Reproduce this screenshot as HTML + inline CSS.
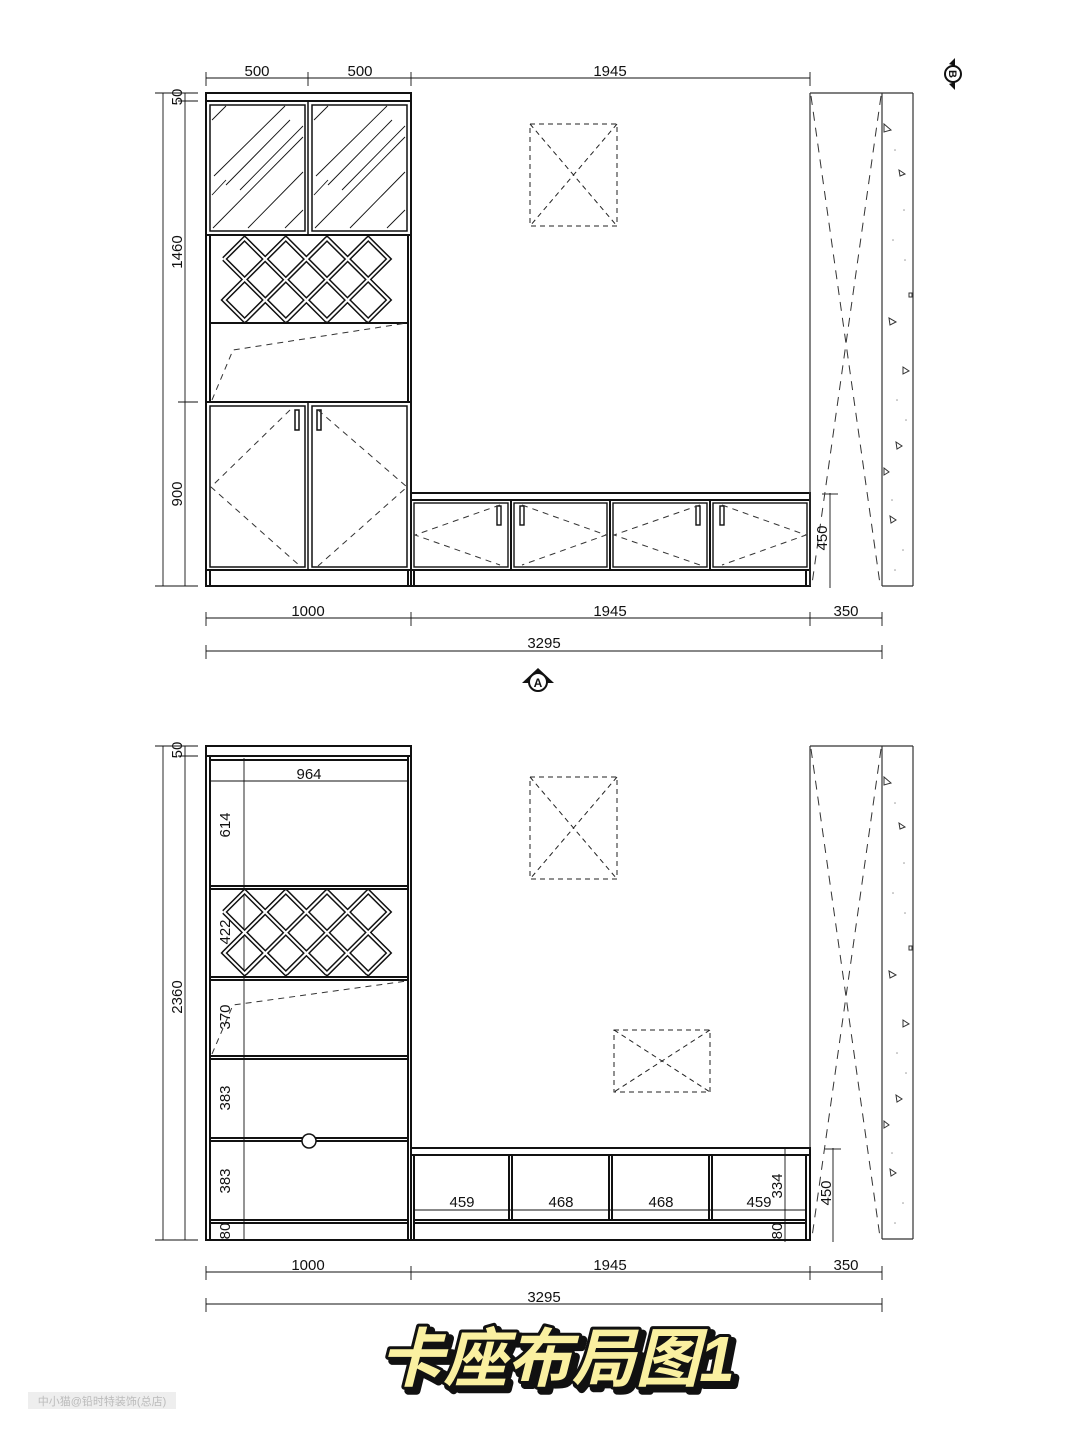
<!DOCTYPE html>
<html><head><meta charset="utf-8"><style>
html,body{margin:0;padding:0;background:#fff}
svg{display:block}
text{font-family:"Liberation Sans","Noto Sans CJK SC",sans-serif;fill:#111}
</style></head><body>
<svg width="1080" height="1439" viewBox="0 0 1080 1439" xmlns="http://www.w3.org/2000/svg">
<defs>
<g id="rackpath">
  <!-- lattice lines: slope -1 and +1 -->
  <polyline points="224,0 244.6,-20.5 265.2,0 285.8,-20.5 306.4,0 327,-20.5 347.6,0 368.2,-20.5 388.8,0 368.2,20.5 388.8,41 368.2,61.5 347.6,41 327,61.5 306.4,41 285.8,61.5 265.2,41 244.6,61.5 224,41 244.6,20.5 224,0"/>
  <line x1="244.6" y1="-20.5" x2="326.6" y2="61.5"/>
  <line x1="285.8" y1="-20.5" x2="367.8" y2="61.5"/>
  <line x1="327" y1="-20.5" x2="388.8" y2="41"/>
  <line x1="244.6" y1="20.5" x2="285.8" y2="61.5"/>
  <line x1="368.2" y1="-20.5" x2="286.2" y2="61.5"/>
  <line x1="327" y1="-20.5" x2="245" y2="61.5"/>
  <line x1="285.8" y1="-20.5" x2="224" y2="41"/>
  <line x1="368.2" y1="20.5" x2="327" y2="61.5"/>
</g>
<g id="rack">
  <use href="#rackpath" fill="none" stroke="#111" stroke-width="5" stroke-linejoin="miter"/>
  <use href="#rackpath" fill="none" stroke="#fff" stroke-width="2"/>
</g>
<g id="wall">
  <line x1="810" y1="93" x2="913" y2="93" stroke="#333" stroke-width="1.2"/>
  <line x1="810" y1="93" x2="810" y2="586" stroke="#333" stroke-width="1.2"/>
  <line x1="882" y1="93" x2="882" y2="586" stroke="#333" stroke-width="1.2"/>
  <line x1="913" y1="93" x2="913" y2="586" stroke="#333" stroke-width="1.2"/>
  <line x1="882" y1="586" x2="913" y2="586" stroke="#333" stroke-width="1.2"/>
  <g stroke="#333" stroke-width="1" stroke-dasharray="9,7" fill="none">
    <line x1="811" y1="96" x2="880" y2="584"/>
    <line x1="881" y1="96" x2="812" y2="584"/>
  </g>
  <g fill="none" stroke="#333" stroke-width="1">
    <polygon points="884,124 884,132 891,130"/>
    <polygon points="899,170 900,176 905,174"/>
    <polygon points="889,318 890,325 896,322"/>
    <polygon points="903,367 903,374 909,371"/>
    <polygon points="896,442 897,449 902,446"/>
    <polygon points="884,468 884,475 889,472"/>
    <polygon points="890,516 891,523 896,520"/>
    <rect x="909" y="293" width="3" height="4"/>
  </g>
  <g fill="#999">
    <circle cx="895" cy="150" r=".8"/><circle cx="904" cy="210" r=".8"/><circle cx="893" cy="240" r=".8"/>
    <circle cx="905" cy="260" r=".8"/><circle cx="897" cy="400" r=".8"/><circle cx="906" cy="420" r=".8"/>
    <circle cx="892" cy="500" r=".8"/><circle cx="903" cy="550" r=".8"/><circle cx="895" cy="570" r=".8"/>
  </g>
</g>
<g id="light1" fill="none" stroke="#222" stroke-width="1" stroke-dasharray="5,4">
  <rect x="530" y="124" width="87" height="102"/>
  <line x1="530" y1="124" x2="617" y2="226"/>
  <line x1="617" y1="124" x2="530" y2="226"/>
</g>
</defs>

<!-- ================= TOP DRAWING ================= -->
<g stroke="#111" fill="none">
  <g stroke-width="0.9">
    <line x1="206" y1="78" x2="810" y2="78"/>
    <line x1="206" y1="72" x2="206" y2="86"/><line x1="308" y1="72" x2="308" y2="86"/>
    <line x1="411" y1="72" x2="411" y2="86"/><line x1="810" y1="72" x2="810" y2="86"/>
    <line x1="185" y1="93" x2="185" y2="586"/><line x1="163" y1="93" x2="163" y2="586"/>
    <line x1="155" y1="93" x2="198" y2="93"/><line x1="178" y1="101" x2="198" y2="101"/>
    <line x1="178" y1="402" x2="198" y2="402"/><line x1="155" y1="586" x2="198" y2="586"/>
    <line x1="206" y1="618" x2="882" y2="618"/>
    <line x1="206" y1="612" x2="206" y2="626"/><line x1="411" y1="612" x2="411" y2="626"/>
    <line x1="810" y1="612" x2="810" y2="626"/><line x1="882" y1="612" x2="882" y2="626"/>
    <line x1="206" y1="651" x2="882" y2="651"/>
    <line x1="206" y1="645" x2="206" y2="659"/><line x1="882" y1="645" x2="882" y2="659"/>
    <line x1="830" y1="493" x2="830" y2="588"/><line x1="822" y1="494" x2="838" y2="494"/>
  </g>
  <g stroke-width="2">
    <rect x="206" y="93" width="205" height="493"/>
    <line x1="206" y1="101" x2="411" y2="101"/>
    <line x1="206" y1="235" x2="411" y2="235"/>
    <line x1="210" y1="323" x2="408" y2="323"/>
    <line x1="206" y1="402" x2="411" y2="402"/>
    <line x1="206" y1="570" x2="411" y2="570"/>
    <line x1="210" y1="235" x2="210" y2="402"/><line x1="408" y1="235" x2="408" y2="402"/>
    <line x1="210" y1="570" x2="210" y2="586"/><line x1="408" y1="570" x2="408" y2="586"/>
  </g>
  <g stroke-width="1.5">
    <rect x="210" y="105" width="95" height="126"/><rect x="312" y="105" width="95" height="126"/>
    <line x1="308" y1="101" x2="308" y2="235"/>
    <rect x="210" y="406" width="95" height="161"/><rect x="312" y="406" width="95" height="161"/>
    <line x1="308" y1="402" x2="308" y2="570"/>
    <rect x="295" y="410" width="4" height="20"/><rect x="317" y="410" width="4" height="20"/>
  </g>
  <g stroke-width="0.9">
    <line x1="212" y1="120" x2="226" y2="106"/><line x1="214" y1="176" x2="285" y2="106"/>
    <line x1="226" y1="185" x2="290" y2="120"/><line x1="240" y1="190" x2="303" y2="126"/>
    <line x1="213" y1="228" x2="303" y2="137"/><line x1="248" y1="228" x2="303" y2="172"/>
    <line x1="285" y1="228" x2="303" y2="210"/><line x1="212" y1="195" x2="226" y2="180"/>
    <line x1="314" y1="120" x2="328" y2="106"/><line x1="316" y1="176" x2="387" y2="106"/>
    <line x1="328" y1="185" x2="392" y2="120"/><line x1="342" y1="190" x2="405" y2="126"/>
    <line x1="315" y1="228" x2="405" y2="137"/><line x1="350" y1="228" x2="405" y2="172"/>
    <line x1="387" y1="228" x2="405" y2="210"/><line x1="314" y1="195" x2="328" y2="180"/>
  </g>
  <g stroke="#333" stroke-width="1" stroke-dasharray="6,5">
    <polyline points="212,400 233,350 407,323"/>
    <polyline points="290,410 211,487 300,566"/>
    <polyline points="318,410 407,487 318,566"/>
  </g>
  <g stroke-width="2">
    <rect x="411" y="493" width="399" height="93"/>
    <line x1="411" y1="500" x2="810" y2="500"/>
    <line x1="411" y1="570" x2="810" y2="570"/>
    <line x1="414" y1="570" x2="414" y2="586"/><line x1="806" y1="570" x2="806" y2="586"/>
    <line x1="511" y1="500" x2="511" y2="570"/><line x1="610" y1="500" x2="610" y2="570"/><line x1="710" y1="500" x2="710" y2="570"/>
  </g>
  <g stroke-width="1.4">
    <rect x="414" y="503" width="94" height="64"/><rect x="514" y="503" width="93" height="64"/>
    <rect x="613" y="503" width="94" height="64"/><rect x="713" y="503" width="94" height="64"/>
    <rect x="497" y="506" width="4" height="19"/><rect x="520" y="506" width="4" height="19"/>
    <rect x="696" y="506" width="4" height="19"/><rect x="720" y="506" width="4" height="19"/>
  </g>
  <g stroke="#333" stroke-width="1" stroke-dasharray="6,5">
    <polyline points="500,505 415,535 500,565"/>
    <polyline points="522,505 606,535 522,565"/>
    <polyline points="700,505 614,535 700,565"/>
    <polyline points="722,505 806,535 722,565"/>
  </g>
</g>
<use href="#rack" transform="translate(0,259)"/>
<use href="#wall"/>
<use href="#light1"/>
<g font-size="15">
  <text x="257" y="76" text-anchor="middle">500</text>
  <text x="360" y="76" text-anchor="middle">500</text>
  <text x="610" y="76" text-anchor="middle">1945</text>
  <text x="308" y="616" text-anchor="middle">1000</text>
  <text x="610" y="616" text-anchor="middle">1945</text>
  <text x="846" y="616" text-anchor="middle">350</text>
  <text x="544" y="648" text-anchor="middle">3295</text>
  <text transform="translate(182,97) rotate(-90)" text-anchor="middle">50</text>
  <text transform="translate(182,252) rotate(-90)" text-anchor="middle">1460</text>
  <text transform="translate(182,494) rotate(-90)" text-anchor="middle">900</text>
  <text transform="translate(827,538) rotate(-90)" text-anchor="middle">450</text>
</g>
<g transform="translate(538,681)">
  <polygon points="-16,2 0,-13 16,2" fill="#111"/>
  <circle cx="0" cy="1" r="9" fill="#fff" stroke="#111" stroke-width="2"/>
  <text x="0" y="6" font-size="12" font-weight="bold" text-anchor="middle">A</text>
</g>
<g transform="translate(953,74)">
  <polygon points="-4,-10 2,-16 2,-8" fill="#111"/>
  <polygon points="-4,10 2,16 2,8" fill="#111"/>
  <circle cx="0" cy="0" r="8" fill="#fff" stroke="#111" stroke-width="2"/>
  <text x="0" y="4" font-size="11" font-weight="bold" text-anchor="middle" transform="rotate(90)">B</text>
</g>

<!-- ================= BOTTOM DRAWING ================= -->
<g transform="translate(0,653)">
  <use href="#wall"/>
  <use href="#light1"/>
</g>
<g fill="none" stroke="#222" stroke-width="1" stroke-dasharray="5,4">
  <rect x="614" y="1030" width="96" height="62"/>
  <line x1="614" y1="1030" x2="710" y2="1092"/>
  <line x1="710" y1="1030" x2="614" y2="1092"/>
</g>
<g stroke="#111" fill="none">
  <g stroke-width="0.9">
    <line x1="185" y1="746" x2="185" y2="1240"/><line x1="163" y1="746" x2="163" y2="1240"/>
    <line x1="155" y1="746" x2="198" y2="746"/><line x1="178" y1="756" x2="198" y2="756"/>
    <line x1="155" y1="1240" x2="198" y2="1240"/>
    <line x1="206" y1="1272" x2="882" y2="1272"/>
    <line x1="206" y1="1266" x2="206" y2="1280"/><line x1="411" y1="1266" x2="411" y2="1280"/>
    <line x1="810" y1="1266" x2="810" y2="1280"/><line x1="882" y1="1266" x2="882" y2="1280"/>
    <line x1="206" y1="1304" x2="882" y2="1304"/>
    <line x1="206" y1="1298" x2="206" y2="1312"/><line x1="882" y1="1298" x2="882" y2="1312"/>
    <line x1="244" y1="758" x2="244" y2="1240"/>
    <line x1="210" y1="781" x2="408" y2="781"/>
    <line x1="785" y1="1148" x2="785" y2="1242"/>
    <line x1="414" y1="1210" x2="806" y2="1210"/>
    <line x1="833" y1="1148" x2="833" y2="1242"/><line x1="825" y1="1149" x2="841" y2="1149"/>
  </g>
  <g stroke-width="2">
    <rect x="206" y="746" width="205" height="494"/>
    <line x1="206" y1="756" x2="411" y2="756"/>
    <line x1="210" y1="756" x2="210" y2="1240"/><line x1="408" y1="756" x2="408" y2="1240"/>
    <line x1="210" y1="760" x2="408" y2="760"/>
    <line x1="210" y1="886" x2="408" y2="886"/><line x1="210" y1="889" x2="408" y2="889"/>
    <line x1="210" y1="977" x2="408" y2="977"/><line x1="210" y1="980" x2="408" y2="980"/>
    <line x1="210" y1="1056" x2="408" y2="1056"/><line x1="210" y1="1059" x2="408" y2="1059"/>
    <line x1="210" y1="1138" x2="408" y2="1138"/><line x1="210" y1="1141" x2="408" y2="1141"/>
    <line x1="210" y1="1220" x2="408" y2="1220"/><line x1="210" y1="1223" x2="408" y2="1223"/>
    <rect x="411" y="1148" width="399" height="92"/>
    <line x1="411" y1="1155" x2="810" y2="1155"/>
    <line x1="414" y1="1155" x2="414" y2="1240"/><line x1="806" y1="1155" x2="806" y2="1240"/>
    <line x1="414" y1="1220" x2="806" y2="1220"/><line x1="414" y1="1223" x2="806" y2="1223"/>
    <line x1="509" y1="1155" x2="509" y2="1220"/><line x1="512" y1="1155" x2="512" y2="1220"/>
    <line x1="609" y1="1155" x2="609" y2="1220"/><line x1="612" y1="1155" x2="612" y2="1220"/>
    <line x1="709" y1="1155" x2="709" y2="1220"/><line x1="712" y1="1155" x2="712" y2="1220"/>
  </g>
  <circle cx="309" cy="1141" r="7" fill="#fff" stroke-width="1.5"/>
  <polyline points="212,1054 233,1005 407,981" stroke="#333" stroke-width="1" stroke-dasharray="6,5"/>
</g>
<use href="#rack" transform="translate(0,912)"/>
<g font-size="15">
  <text x="309" y="779" text-anchor="middle">964</text>
  <text transform="translate(230,825) rotate(-90)" text-anchor="middle">614</text>
  <text transform="translate(230,932) rotate(-90)" text-anchor="middle">422</text>
  <text transform="translate(230,1017) rotate(-90)" text-anchor="middle">370</text>
  <text transform="translate(230,1098) rotate(-90)" text-anchor="middle">383</text>
  <text transform="translate(230,1181) rotate(-90)" text-anchor="middle">383</text>
  <text transform="translate(230,1231) rotate(-90)" text-anchor="middle">80</text>
  <text transform="translate(182,750) rotate(-90)" text-anchor="middle">50</text>
  <text transform="translate(182,997) rotate(-90)" text-anchor="middle">2360</text>
  <text x="462" y="1207" text-anchor="middle">459</text>
  <text x="561" y="1207" text-anchor="middle">468</text>
  <text x="661" y="1207" text-anchor="middle">468</text>
  <text x="759" y="1207" text-anchor="middle">459</text>
  <text transform="translate(782,1186) rotate(-90)" text-anchor="middle">334</text>
  <text transform="translate(782,1231) rotate(-90)" text-anchor="middle">80</text>
  <text transform="translate(831,1193) rotate(-90)" text-anchor="middle">450</text>
  <text x="308" y="1270" text-anchor="middle">1000</text>
  <text x="610" y="1270" text-anchor="middle">1945</text>
  <text x="846" y="1270" text-anchor="middle">350</text>
  <text x="544" y="1302" text-anchor="middle">3295</text>
</g>

<g font-size="64" font-weight="bold" font-style="italic" text-anchor="middle">
  <text x="561" y="1385" stroke="#111" stroke-width="8" stroke-linejoin="round" style="fill:#111">卡座布局图1</text>
  <text x="557" y="1381" stroke="#111" stroke-width="6" stroke-linejoin="round" paint-order="stroke" style="fill:#faf0a0">卡座布局图1</text>
</g>
<rect x="28" y="1392" width="148" height="17" fill="#eee"/>
<text x="102" y="1405" font-size="11" text-anchor="middle" style="fill:#bbb">中小猫@铅时特装饰(总店)</text>
</svg>
</body></html>
